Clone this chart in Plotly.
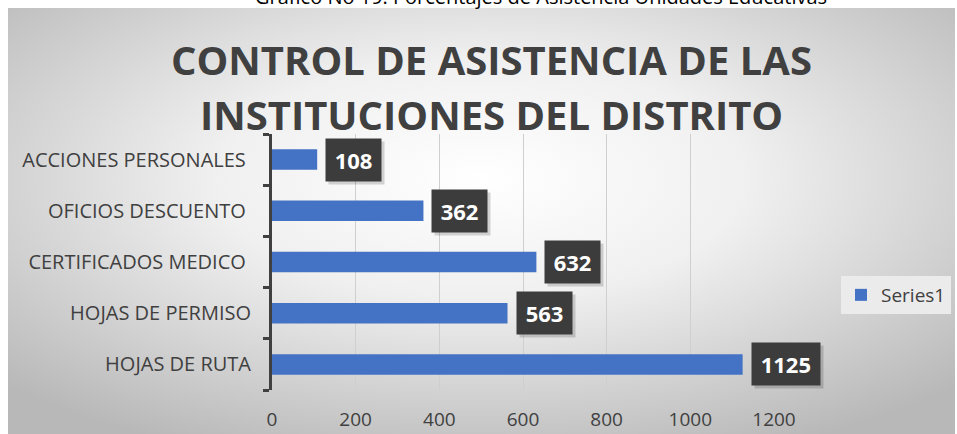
import base64
import plotly.graph_objects as go

categories = ["ACCIONES PERSONALES ", "OFICIOS DESCUENTO ", "CERTIFICADOS MEDICO ", "HOJAS DE PERMISO", "HOJAS DE RUTA"]
values = [108, 362, 632, 563, 1125]
series_name = "Series1"
x_ticks = [0, 200, 400, 600, 800, 1000, 1200]
title_lines = ["CONTROL DE ASISTENCIA DE LAS", "INSTITUCIONES DEL DISTRITO"]
caption = "Gráfico No 19. Porcentajes de Asistencia Unidades Educativas"

W, H = 957, 434
L, R, T, B = 272, 183, 134, 44
PW, PH = W - L - R, H - T - B

def px_to_paper_x(px):
    return (px - L) / PW

def px_to_paper_y(py):
    return (H - B - py) / PH

svg = (
    '<svg xmlns="http://www.w3.org/2000/svg" width="100" height="100" viewBox="0 0 100 100" preserveAspectRatio="none">'
    '<defs><radialGradient id="g" cx="50%" cy="40%" r="70%">'
    '<stop offset="0" stop-color="#ffffff"/><stop offset="0.4" stop-color="#f0f0f0"/>'
    '<stop offset="1" stop-color="#b8b8b8"/></radialGradient></defs>'
    '<rect x="0" y="0" width="100" height="100" fill="url(#g)"/></svg>'
)
svg_uri = "data:image/svg+xml;base64," + base64.b64encode(svg.encode()).decode()

tick_text = [c.rstrip() + ("\u00a0" if c.endswith(" ") else "") for c in categories]

fig = go.Figure()
fig.add_trace(go.Bar(
    x=values, y=categories, orientation="h", name=series_name,
    marker=dict(color="#4472c4", line=dict(width=0)),
    showlegend=True,
))

annotations = []
for v, c in zip(values, categories):
    txt = "\u2009" + str(v) + "\u2009"
    annotations.append(dict(
        x=v, y=c, xref="x", yref="y", text="<b>" + txt + "</b>", showarrow=False,
        xanchor="left", yanchor="middle", xshift=11, yshift=-3,
        font=dict(family="Open Sans", size=22, color="rgba(0,0,0,0)"),
        bgcolor="rgba(0,0,0,0.16)", borderpad=5, height=32,
    ))
    annotations.append(dict(
        x=v, y=c, xref="x", yref="y", text="<b>" + txt + "</b>", showarrow=False,
        xanchor="left", yanchor="middle", xshift=8,
        font=dict(family="Open Sans", size=22, color="#ffffff"),
        bgcolor="#3c3c3c", borderpad=5, height=32,
    ))

for i, line in enumerate(title_lines):
    annotations.append(dict(
        x=px_to_paper_x(491), y=px_to_paper_y(59 + i * 55), xref="paper", yref="paper",
        text="<b>" + line + "</b>", showarrow=False, xanchor="center", yanchor="middle",
        font=dict(family="Open Sans", size=40, color="#404040"),
    ))

annotations.append(dict(
    x=px_to_paper_x(541), y=px_to_paper_y(-4), xref="paper", yref="paper",
    text=caption, showarrow=False, xanchor="center", yanchor="middle",
    font=dict(family="Open Sans", size=20, color="#000000"),
))

fig.update_layout(
    width=W, height=H,
    margin=dict(l=L, r=R, t=T, b=B, pad=0, autoexpand=False),
    paper_bgcolor="#ffffff",
    plot_bgcolor="rgba(255,255,255,0.2)",
    bargap=0.6,
    font=dict(family="Open Sans", color="#404040"),
    xaxis=dict(
        range=[0, 1200], tickvals=x_ticks, ticktext=[str(t) for t in x_ticks],
        showgrid=True, gridcolor="#cfcfcf", gridwidth=1, zeroline=False,
        showline=False, ticks="", ticklabelstandoff=16, automargin=False,
        tickfont=dict(family="Open Sans", size=19, color="#404040"),
    ),
    yaxis=dict(
        autorange="reversed", showgrid=False, zeroline=False,
        tickvals=categories, ticktext=tick_text,
        showline=True, linecolor="#404040", linewidth=3,
        ticks="outside", tickson="boundaries", ticklen=6, tickwidth=3, tickcolor="#404040",
        ticklabelstandoff=14, automargin=False,
        tickfont=dict(family="Open Sans", size=20, color="#404040"),
    ),
    legend=dict(
        x=px_to_paper_x(841), y=px_to_paper_y(295), xanchor="left", yanchor="middle",
        bgcolor="#ebebeb", font=dict(family="Open Sans", size=19, color="#404040"),
        borderwidth=0,
    ),
    annotations=annotations,
    images=[dict(
        source=svg_uri, xref="paper", yref="paper",
        x=px_to_paper_x(8), y=px_to_paper_y(8),
        sizex=(955 - 8) / PW, sizey=(H - 8) / PH,
        xanchor="left", yanchor="top", sizing="stretch", layer="below",
    )],
)

fig.write_html(
    "out.html",
    config={"displayModeBar": False},
    post_script="document.body.style.margin='0';document.body.style.overflow='hidden';",
)
